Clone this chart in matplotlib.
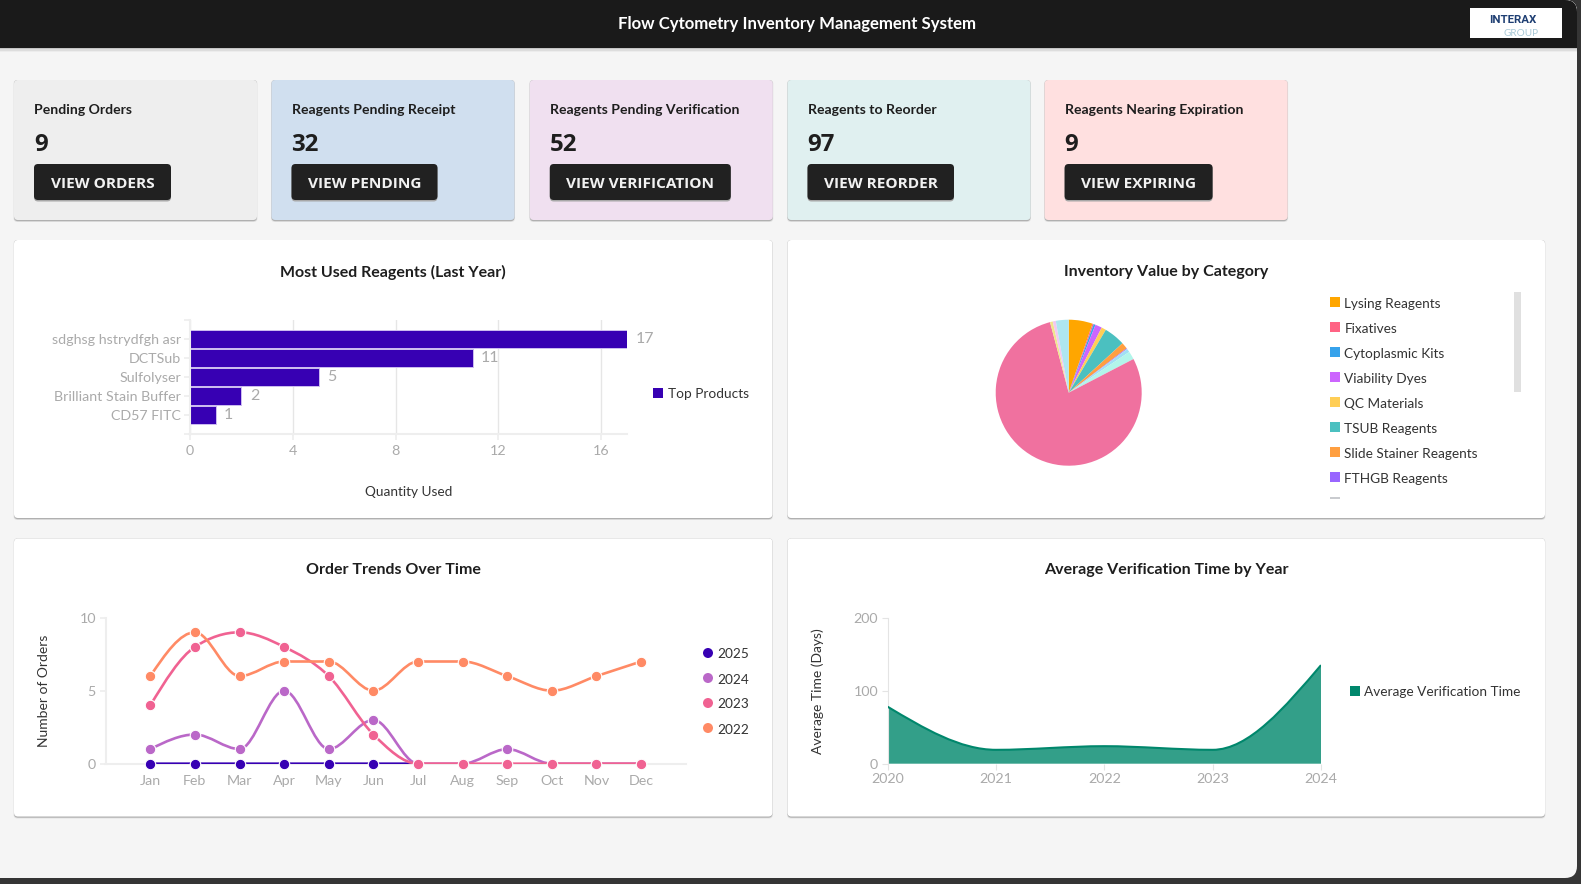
"""Flow cytometry inventory dashboard rebuilt with matplotlib."""

import matplotlib

matplotlib.use("Agg")

import matplotlib.pyplot as plt
import numpy as np
from matplotlib.patches import Circle, FancyBboxPatch, PathPatch, Rectangle
from matplotlib.path import Path

WIDTH, HEIGHT = 1581, 884
PX = 0.72  # css px to points at dpi 100

plt.rcParams["font.family"] = ["Lato", "DejaVu Sans"]

# summary cards
card_titles = [
    "Pending Orders",
    "Reagents Pending Receipt",
    "Reagents Pending Verification",
    "Reagents to Reorder",
    "Reagents Nearing Expiration",
]
card_counts = [9, 32, 52, 97, 9]
card_buttons = ["VIEW ORDERS", "VIEW PENDING", "VIEW VERIFICATION", "VIEW REORDER", "VIEW EXPIRING"]
card_colors = ["#eeeeee", "#d0dfef", "#f0e0f0", "#e0f0f0", "#ffe0e0"]
card_lefts = [14, 271.5, 529.8, 787.5, 1044.6]
button_widths = [137, 146, 181, 146.5, 148]

# most used reagents
products = ["sdghsg hstrydfgh asr", "DCTSub", "Sulfolyser", "Brilliant Stain Buffer", "CD57 FITC"]
quantities = [17, 11, 5, 2, 1]

# inventory value, slices in clockwise order from the top
pie_labels = [
    "Lysing Reagents",
    "Fixatives",
    "Cytoplasmic Kits",
    "Viability Dyes",
    "QC Materials",
    "TSUB Reagents",
    "Slide Stainer Reagents",
    "FTHGB Reagents",
]
pie_values = [19, 1, 1.5, 5.3, 3.7, 16.8, 5.1, 0.6, 0.2, 2.7, 6.5, 282, 2.2, 2.4, 10.2]
pie_colors = [
    "#ffa600", "#ff6384", "#36a2eb", "#cc65fe", "#ffce56", "#4bc0c0", "#ff9f40", "#9966ff",
    "#c9cbcf", "#a0e0f5", "#b2f5ea", "#f0719f", "#f0e68c", "#f3c8f0", "#aee6f0",
]

# order trends
months = ["Jan", "Feb", "Mar", "Apr", "May", "Jun", "Jul", "Aug", "Sep", "Oct", "Nov", "Dec"]
orders_2025 = [0, 0, 0, 0, 0, 0, 0]
orders_2024 = [1, 2, 1, 5, 1, 3, 0, 0, 1, 0, 0, 0]
orders_2023 = [4, 8, 9, 8, 6, 2, 0, 0, 0, 0, 0, 0]
orders_2022 = [6, 9, 6, 7, 7, 5, 7, 7, 6, 5, 6, 7]
order_years = ["2025", "2024", "2023", "2022"]
order_colors = ["#3700b3", "#ba68c8", "#f06292", "#ff8a65"]

# verification time
verify_years = [2020, 2021, 2022, 2023, 2024]
verify_days = [78, 19, 24, 19, 135]
VERIFY_COLOR = "#00876c"

AXIS_LIGHT = "#eeeeee"
TICK_GREY = "#aaaaaa"
TEXT_DARK = "#333333"
TICK_PX = 14.2
LEGEND_PX = 13.6


def monotone_path(xs, ys, baseline=None):
    """Monotone cubic through the points, optionally closed down to a baseline."""
    xs = np.asarray(xs, dtype=float)
    ys = np.asarray(ys, dtype=float)
    h = np.diff(xs)
    s = np.diff(ys) / h
    t = np.zeros(len(xs))
    for i in range(1, len(xs) - 1):
        p = (s[i - 1] * h[i] + s[i] * h[i - 1]) / (h[i - 1] + h[i])
        t[i] = (np.sign(s[i - 1]) + np.sign(s[i])) * min(abs(s[i - 1]), abs(s[i]), 0.5 * abs(p))
    t[0] = (3 * s[0] - t[1]) / 2
    t[-1] = (3 * s[-1] - t[-2]) / 2

    verts = [(xs[0], ys[0])]
    codes = [Path.MOVETO]
    for i in range(len(xs) - 1):
        d = h[i] / 3
        verts += [(xs[i] + d, ys[i] + t[i] * d), (xs[i + 1] - d, ys[i + 1] - t[i + 1] * d), (xs[i + 1], ys[i + 1])]
        codes += [Path.CURVE4] * 3
    if baseline is not None:
        verts += [(xs[-1], baseline), (xs[0], baseline), (xs[0], baseline)]
        codes += [Path.LINETO, Path.LINETO, Path.CLOSEPOLY]
    return Path(verts, codes)


def axes_px(left, top, right, bottom):
    """Create transparent axes from pixel bounds measured from the top left."""
    ax = fig.add_axes([left / WIDTH, 1 - bottom / HEIGHT, (right - left) / WIDTH, (bottom - top) / HEIGHT])
    ax.patch.set_alpha(0)
    for side in ("top", "right"):
        ax.spines[side].set_visible(False)
    return ax


def rounded(x0, y0, x1, y1, color, radius=4, zorder=2, **kwargs):
    box = FancyBboxPatch(
        (x0, y0), x1 - x0, y1 - y0, boxstyle=f"round,pad=0,rounding_size={radius}",
        facecolor=color, edgecolor="none", zorder=zorder, **kwargs,
    )
    bg.add_patch(box)
    return box


def card(x0, y0, x1, y1, color):
    rounded(x0 - 0.5, y0, x1 + 0.5, y1 + 2, "#e2e2e2", zorder=2)
    rounded(x0, y0, x1, y1 + 1.2, "#b0b0b0", zorder=2.1)
    rounded(x0, y0, x1, y1, color, zorder=2.2)


fig = plt.figure(figsize=(WIDTH / 100, HEIGHT / 100), dpi=100, facecolor="#353535")

bg = fig.add_axes([0, 0, 1, 1])
bg.set_xlim(0, WIDTH)
bg.set_ylim(HEIGHT, 0)
bg.axis("off")

window = rounded(-30, 0, 1577, 878, "#f5f5f5", radius=12, zorder=1)
for offset, shade in zip((4, 2.5, 1), ("#ececec", "#dddddd", "#c4c4c4")):
    band = Rectangle((-30, 0), 1640, 48 + offset, facecolor=shade, edgecolor="none", zorder=1.1)
    bg.add_patch(band)
    band.set_clip_path(window)
header = Rectangle((-30, 0), 1640, 48, facecolor="#1a1a1a", edgecolor="none", zorder=1.2)
bg.add_patch(header)
header.set_clip_path(window)
bg.text(797, 24.5, "Flow Cytometry Inventory Management System", color="white", fontsize=16.8 * PX,
        fontweight="bold", ha="center", va="center", zorder=3)

bg.add_patch(Rectangle((1470, 8), 92, 30, facecolor="white", edgecolor="none", zorder=3))
bg.text(1513, 20, "INTERAX", color="#1f3f73", fontsize=11.5 * PX, fontweight="bold",
        family=["Roboto", "DejaVu Sans"], ha="center", va="center", zorder=4)
bg.text(1521, 33, "GROUP", color="#a8c8d6", fontsize=10 * PX, ha="center", va="center", zorder=4)

for left, title, count, button, color, button_w in zip(
    card_lefts, card_titles, card_counts, card_buttons, card_colors, button_widths
):
    card(left, 80, left + 243, 220, color)
    bg.text(left + 20.5, 109.5, title, color="#1e1e1e", fontsize=14 * PX, fontweight="bold",
            ha="left", va="center", zorder=3)
    bg.text(left + 20, 145, str(count), color="#1e1e1e", fontsize=24 * PX, fontweight="bold",
            family=["Open Sans", "DejaVu Sans"], ha="left", va="center", zorder=3)
    rounded(left + 20, 165, left + 20 + button_w, 201.5, "#a8a8a8", zorder=3)
    rounded(left + 20, 164, left + 20 + button_w, 200, "#212121", zorder=3.1)
    bg.text(left + 20 + button_w / 2, 183.5, button, color="#f2f2f2", fontsize=15.4 * PX, fontweight="bold",
            family=["Open Sans", "DejaVu Sans"], ha="center", va="center", zorder=3.2)

panels = [(14, 240, 772.4, 518), (787.5, 240, 1545, 518), (14, 538.4, 772.4, 816.5), (787.5, 538.4, 1545, 816.5)]
panel_titles = [
    "Most Used Reagents (Last Year)",
    "Inventory Value by Category",
    "Order Trends Over Time",
    "Average Verification Time by Year",
]
for (x0, y0, x1, y1), title in zip(panels, panel_titles):
    card(x0, y0, x1, y1, "white")
    bg.text((x0 + x1) / 2, y0 + 32, title, color="#1e1e1e", fontsize=16 * PX, fontweight="bold",
            ha="center", va="center", zorder=3)

# bar chart
ax = axes_px(190, 320, 627, 434)
bars = ax.barh(range(len(products)), quantities, height=0.9, color="#3700b3", edgecolor="#cdbdf0", linewidth=0.7)
ax.set_xlim(0, 17)
ax.set_ylim(5, -1)
ax.set_xticks([0, 4, 8, 12, 16])
ax.set_yticks(range(-1, 6), [""] + products + [""])
ax.grid(axis="x", color="#e6e6e6", linewidth=1)
ax.set_axisbelow(True)
ax.tick_params(colors=AXIS_LIGHT, labelcolor=TICK_GREY, labelsize=TICK_PX * PX, length=4, width=1.2, pad=4)
ax.tick_params(axis="y", pad=2.5)
ax.bar_label(bars, padding=6, color=TICK_GREY, fontsize=16 * PX)
for side in ("left", "bottom"):
    ax.spines[side].set_color(AXIS_LIGHT)
    ax.spines[side].set_linewidth(1.5)
bg.text(408.5, 491.5, "Quantity Used", color=TEXT_DARK, fontsize=LEGEND_PX * PX, ha="center", va="center", zorder=3)
bg.add_patch(Rectangle((653, 388), 10, 10, facecolor="#3700b3", edgecolor="none", zorder=3))
bg.text(667.5, 393.5, "Top Products", color=TEXT_DARK, fontsize=LEGEND_PX * PX, ha="left", va="center", zorder=3)

# pie chart
ax = axes_px(1068.7 - 73, 392.7 - 73, 1068.7 + 73, 392.7 + 73)
ax.pie(pie_values, colors=pie_colors, startangle=90, counterclock=False, radius=1,
       wedgeprops={"linewidth": 0})
ax.set_xlim(-1, 1)
ax.set_ylim(-1, 1)
for i, label in enumerate(pie_labels):
    bg.add_patch(Rectangle((1330, 297 + 25 * i), 10, 10, facecolor=pie_colors[i], edgecolor="none", zorder=3))
    bg.text(1344.3, 304 + 25 * i, label, color=TEXT_DARK, fontsize=LEGEND_PX * PX, ha="left", va="center", zorder=3)
bg.add_patch(Rectangle((1330, 497), 10, 1.5, facecolor=pie_colors[8], edgecolor="none", zorder=3))
bg.add_patch(Rectangle((1513.5, 292.4), 7.5, 100, facecolor="#e0e0e0", edgecolor="none", zorder=3))

# order trends
ax = axes_px(105.7, 617.7, 685.7, 763.7)
series = [orders_2025, orders_2024, orders_2023, orders_2022]
for z, (values, color) in enumerate(zip(series, order_colors)):
    xs = np.arange(len(values))
    ax.add_patch(PathPatch(monotone_path(xs, values), facecolor="none", edgecolor=color, linewidth=1.9, zorder=3 + z))
    dots = xs[:6] if color == order_colors[0] else xs
    ax.plot(dots, np.asarray(values)[dots], linestyle="none", marker="o", markersize=10.5 * PX,
            markerfacecolor=color, markeredgecolor="white", markeredgewidth=0.8, clip_on=False, zorder=3 + z)
ax.set_xlim(-1, 12)
ax.set_ylim(0, 10)
ax.set_xticks(range(12), months)
ax.set_yticks([0, 5, 10])
ax.tick_params(colors=AXIS_LIGHT, labelcolor=TICK_GREY, labelsize=TICK_PX * PX, length=4, width=1.2, pad=3)
ax.tick_params(axis="x", length=0, pad=8)
for side in ("left", "bottom"):
    ax.spines[side].set_color(AXIS_LIGHT)
    ax.spines[side].set_linewidth(1.5)
bg.text(43.5, 690.7, "Number of Orders", color=TEXT_DARK, fontsize=13.9 * PX, rotation=90,
        ha="center", va="center", zorder=3)
for i, (year, color) in enumerate(zip(order_years, order_colors)):
    bg.add_patch(Circle((708, 653 + 25 * i), 5, facecolor=color, edgecolor="none", zorder=3))
    bg.text(717.7, 654.5 + 25 * i, year, color=TEXT_DARK, fontsize=LEGEND_PX * PX, ha="left", va="center", zorder=3)

# verification time
ax = axes_px(887.7, 617.7, 1321, 763.7)
ax.add_patch(PathPatch(monotone_path(verify_years, verify_days, baseline=0), facecolor=VERIFY_COLOR,
                       edgecolor="none", alpha=0.8, zorder=2))
ax.add_patch(PathPatch(monotone_path(verify_years, verify_days), facecolor="none", edgecolor=VERIFY_COLOR,
                       linewidth=1.5, zorder=3))
ax.set_xlim(2020, 2024)
ax.set_ylim(0, 200)
ax.set_xticks(verify_years)
ax.set_yticks([0, 100, 200])
ax.tick_params(colors="#e4e4e4", labelcolor=TICK_GREY, labelsize=TICK_PX * PX, length=4, width=0.8, pad=3)
ax.spines["left"].set_color("#e4e4e4")
ax.spines["bottom"].set_visible(False)
bg.text(818, 690.7, "Average Time (Days)", color=TEXT_DARK, fontsize=13.9 * PX, rotation=90,
        ha="center", va="center", zorder=3)
bg.add_patch(Rectangle((1350, 686), 10, 10, facecolor=VERIFY_COLOR, edgecolor="none", zorder=3))
bg.text(1364.3, 691.5, "Average Verification Time", color=TEXT_DARK, fontsize=LEGEND_PX * PX, ha="left", va="center", zorder=3)

fig.savefig("out.png", dpi=100, facecolor=fig.get_facecolor())
